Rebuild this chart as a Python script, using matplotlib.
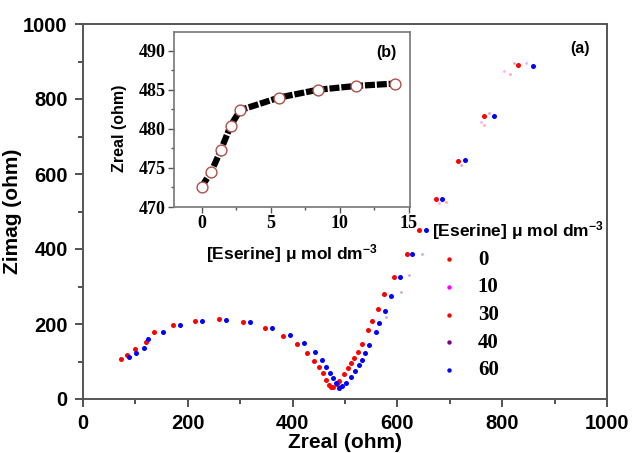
import numpy as np
import matplotlib
matplotlib.use('Agg')
import matplotlib.pyplot as plt
from matplotlib.ticker import MultipleLocator

plt.rcParams['mathtext.fontset'] = 'custom'
plt.rcParams['mathtext.rm'] = 'Liberation Sans:bold'
plt.rcParams['mathtext.default'] = 'rm'

# Nyquist data, 0 umol (red)
x_0 = [71.8, 84.4, 99, 120, 135, 170.9, 212.8, 259.6, 305, 347, 381.6, 408, 427, 440.6, 450,
       457.8, 464, 469, 473.7, 478, 484, 489.5, 499, 505, 512, 518, 524, 532, 543.5, 551,
       562.5, 575, 593.7, 617.8, 642, 673.6, 714.9, 765.7, 831]
y_0 = [105.9, 116.5, 133, 152, 179, 197, 209, 213, 205, 190, 169, 146.7, 123.5, 102, 84.5,
       68.4, 50.7, 37, 31, 33, 40, 48, 66.7, 81.8, 95, 108.4, 126, 146.7, 184, 208,
       241, 280, 326, 388, 452, 532.5, 635.5, 754, 890]

# 60 umol (blue)
x_60 = [87, 101, 116, 123.8, 151.8, 186, 228, 273.7, 319, 361, 395, 422, 442, 456, 464,
        471.7, 476.8, 483, 489.5, 495, 502, 512, 520, 526, 533, 539, 546.7, 559, 565.7,
        576, 588.6, 605.7, 628, 654.6, 685, 729.5, 784.8, 859]
y_60 = [112, 122.7, 136.8, 160.8, 178.7, 197, 208, 211.5, 205, 190, 170.7, 148.4, 125, 103, 86,
        70, 55, 41.6, 30, 34, 41.8, 59.5, 75.6, 89.8, 104, 121.8, 144, 179.6, 201.8,
        235.5, 274.7, 324.4, 388, 452, 534, 637, 754.7, 889]

# faint series
x_10 = [680, 759, 803, 845]
y_10 = [522, 739, 875, 897]
x_30 = [693, 766, 815]
y_30 = [526, 731, 867]
x_40 = [578, 607, 623, 647, 721, 775, 823]
y_40 = [219, 286, 331, 388, 624, 763, 896]

# inset data
eserine = [0, 0.7, 1.4, 2.1, 2.8, 5.6, 8.4, 11.2, 14.0]
zreal = [472.6, 474.5, 477.3, 480.4, 482.4, 484.0, 485.0, 485.5, 485.8]

fig = plt.figure(figsize=(6.32, 4.53), dpi=100)
ax = fig.add_axes([83/632, 1-399/453, 524/632, 375/453])

ax.scatter(x_0, y_0, s=13, color='#ff0000', lw=0, label='0', zorder=3)
ax.scatter(x_10, y_10, s=4, color='#ff00ff', lw=0, alpha=0.35, label='10')
ax.scatter(x_30, y_30, s=4, color='#ff0000', lw=0, alpha=0.35, label='30')
ax.scatter(x_40, y_40, s=4, color='#800080', lw=0, alpha=0.35, label='40')
ax.scatter(x_60, y_60, s=13, color='#0000ff', lw=0, label='60', zorder=3)

ax.set_xlim(0, 1000)
ax.set_ylim(0, 1000)
ax.xaxis.set_major_locator(MultipleLocator(200))
ax.xaxis.set_minor_locator(MultipleLocator(100))
ax.yaxis.set_major_locator(MultipleLocator(200))
ax.yaxis.set_minor_locator(MultipleLocator(100))
ax.tick_params(which='both', direction='out', top=False, right=False, width=1.2, color='#333333')
ax.tick_params(which='major', length=6, labelsize=14.5, pad=5)
ax.tick_params(which='minor', length=3.5)
for lab in ax.get_xticklabels() + ax.get_yticklabels():
    lab.set_fontfamily('Liberation Sans')
    lab.set_fontweight('bold')
for s in ax.spines.values():
    s.set_color('#555555')
    s.set_linewidth(1.4)

ax.set_xlabel('Zreal (ohm)', fontsize=15, fontweight='bold', family='Liberation Sans', labelpad=0)
ax.set_ylabel('Zimag (ohm)', fontsize=15, fontweight='bold', family='Liberation Sans')
ax.yaxis.set_label_coords(-0.116, 0.5)
fig.text(580/632, 1-48/453, '(a)', fontsize=11.5, fontweight='bold', family='Liberation Sans',
         ha='center', va='center')

leg = ax.legend(loc='upper left', bbox_to_anchor=(432/632, 1-219/453), bbox_transform=fig.transFigure,
                frameon=False, borderpad=0, borderaxespad=0, alignment='left', handlelength=1.6,
                handletextpad=0.6, labelspacing=0.37,
                prop=dict(family='Liberation Serif', weight='bold', size=15),
                title='[Eserine] μ mol dm$^{-3}$',
                title_fontproperties=dict(family='Liberation Sans', weight='bold', size=12.5))
for h in leg.legend_handles:
    h.set_alpha(1)
    h.set_sizes([10])

# inset
ins = fig.add_axes([174/632, 1-207/453, 236/632, 175/453])
ins.plot(eserine, zreal, color='black', lw=4.5, ls=(0, (1.6, 0.3)), zorder=2)
ins.plot(eserine, zreal, ls='none', marker='o', ms=7.8, mfc='white', mec='#b0504a', mew=1.0, zorder=3)
ins.set_xlim(-2, 15.1)
ins.set_ylim(470, 492.4)
ins.xaxis.set_major_locator(MultipleLocator(5))
ins.xaxis.set_minor_locator(MultipleLocator(2.5))
ins.yaxis.set_major_locator(MultipleLocator(5))
ins.yaxis.set_minor_locator(MultipleLocator(2.5))
ins.tick_params(which='both', direction='out', top=False, right=False, width=1.0, color='#555555')
ins.tick_params(which='major', length=4, labelsize=13, pad=2)
ins.tick_params(which='minor', length=2.5)
for lab in ins.get_xticklabels() + ins.get_yticklabels():
    lab.set_fontfamily('Liberation Serif')
    lab.set_fontweight('bold')
for s in ins.spines.values():
    s.set_color('#777777')
    s.set_linewidth(1.2)
ins.set_xlabel('[Eserine] μ mol dm$^{-3}$', fontsize=12.5, fontweight='bold', family='Liberation Sans')
ins.set_ylabel('Zreal (ohm)', fontsize=11.5, fontweight='bold', family='Liberation Sans')
ins.xaxis.set_label_coords(0.5, -0.2)
ins.yaxis.set_label_coords(-0.2, 0.45)
ins.text(386/632, 1-53/453, '(b)', transform=fig.transFigure, fontsize=11.5, fontweight='bold',
         family='Liberation Sans', ha='center', va='center')

fig.savefig('out.png', dpi=100)
